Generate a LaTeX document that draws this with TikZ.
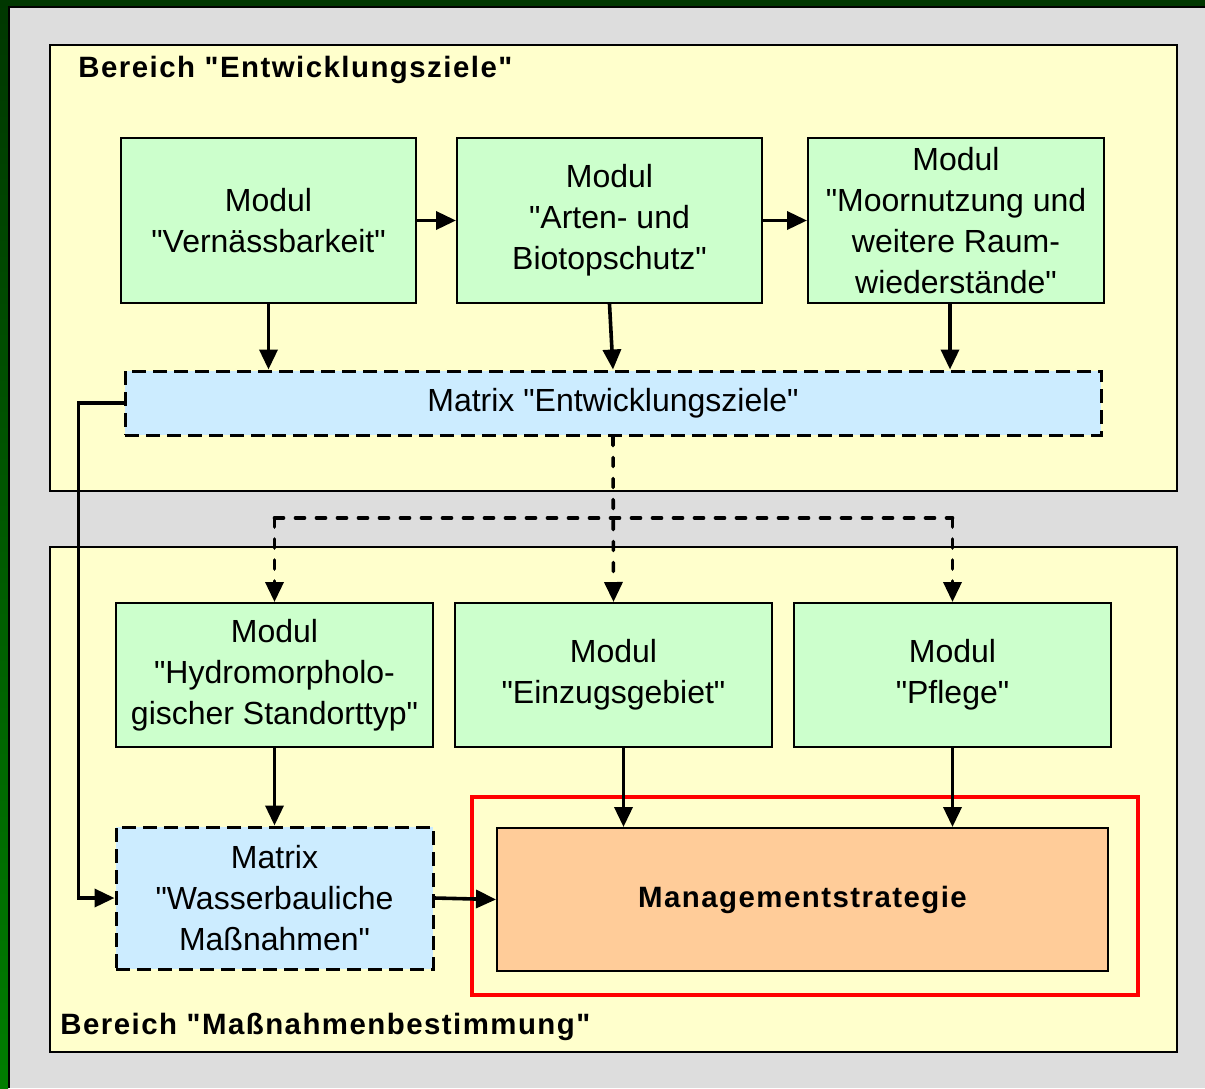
\documentclass[tikz,border=0pt]{standalone}
\usepackage{fontspec}
\setmainfont{Liberation Sans}
\newfontfamily\bodyfont{Liberation Sans}
\newfontfamily\spacedfont[LetterSpace=5.0]{Liberation Sans}
\usetikzlibrary{arrows.meta,positioning}
\definecolor{areayellow}{RGB}{255,255,204}
\definecolor{modgreen}{RGB}{204,255,204}
\definecolor{matblue}{RGB}{204,236,255}
\definecolor{mgmtorange}{RGB}{255,204,153}
\definecolor{pagegrey}{RGB}{221,221,221}
\definecolor{framegreen}{RGB}{0,55,0}
\definecolor{stripgreen}{RGB}{0,125,0}
\tikzset{
  flow/.style={-{Triangle[length=10pt,width=9pt]}, line width=1.8pt, draw=black},
  dashflow/.style={flow, dash pattern=on 4.5pt off 6pt, line cap=round},
  dashline/.style={line width=1.8pt, dash pattern=on 4.5pt off 6pt, line cap=round},
  area/.style={draw=black, line width=1.2pt, fill=areayellow, inner sep=0pt},
  modbox/.style={
    draw=black,
    line width=1pt,
    fill=modgreen,
    align=center,
    inner sep=0pt,
    font=\fontsize{16}{20.5}\bodyfont
  },
  matbox/.style={modbox, fill=matblue, line width=1.5pt, dash pattern=on 7pt off 3.5pt},
  mgmtbox/.style={modbox, fill=mgmtorange, font=\fontsize{14.7}{18}\spacedfont\bfseries},
  areatitle/.style={anchor=west, inner sep=0pt, font=\fontsize{14.7}{18}\spacedfont\bfseries}
}
\begin{document}
\begin{tikzpicture}[x=0.5pt,y=-0.5pt]
  \useasboundingbox (0,0) rectangle (1205,1088);
  % page frame
  \fill[pagegrey] (0,0) rectangle (1205,1088);
  \shade[top color=framegreen, bottom color=stripgreen] (0,0) rectangle (8,1088);
  \fill[framegreen] (0,0) rectangle (1205,6);
  \draw[line width=1pt] (9,1088) -- (9,7) -- (1205,7);

  % the two areas
  \node[area,minimum width=563.5pt,minimum height=223pt] (upper) at (613.5,268) {};
  \node[area,minimum width=563.5pt,minimum height=252.5pt] (lower) at (613.5,799.5) {};
  \node[areatitle] (uppertitle) at (78,70) {Bereich "Entwicklungsziele"};
  \node[areatitle] (lowertitle) at (60,1027) {Bereich "Maßnahmenbestimmung"};

  % modules, upper row
  \node[modbox,minimum width=147.5pt,minimum height=82.5pt] (verna) at (268.5,220.5) {Modul\\"Vernässbarkeit"};
  \node[modbox,minimum width=152.5pt,minimum height=82.5pt] (arten) at (609.5,220.5) {Modul\\"Arten- und\\Biotopschutz"};
  \node[modbox,minimum width=148pt,minimum height=82.5pt] (moor) at (956,220.5) {Modul\\"Moornutzung und\\weitere Raum-\\wiederstände"};
  \node[matbox,minimum width=488pt,minimum height=32pt] (mez) at (613,403) {Matrix "Entwicklungsziele"};

  % modules, lower row
  \node[modbox,minimum width=158.5pt,minimum height=72pt] (hydro) at (274.5,675) {Modul\\"Hydromorpholo-\\gischer Standorttyp"};
  \node[modbox,minimum width=158.5pt,minimum height=72pt] (einzug) at (613.5,675) {Modul\\"Einzugsgebiet"};
  \node[modbox,minimum width=158.5pt,minimum height=72pt] (pflege) at (952.5,675) {Modul\\"Pflege"};
  \node[matbox,minimum width=158.5pt,minimum height=71pt] (wasser) at (274.5,898) {Matrix\\"Wasserbauliche\\Maßnahmen"};
  \draw[red,line width=2.2pt] (472,797) rectangle (1138,995);
  \node[mgmtbox,minimum width=305.5pt,minimum height=71.5pt] (mgmt) at (802.5,899.5) {Managementstrategie};

  % connectors
  \draw[flow] (verna.east) -- (arten.west);
  \draw[flow] (arten.east) -- (moor.west);
  \draw[flow] (verna.south) -- (verna.south |- mez.north);
  \draw[flow] (arten.south) -- (mez.north);
  \draw[flow] ([xshift=-3pt]moor.south) -- ([xshift=-3pt]moor.south |- mez.north);

  \coordinate (split) at (613,518);
  \draw[dashflow] (mez.south) -- (einzug.north);
  \draw[dashline] (split -| hydro.north) -- (split -| pflege.north);
  \draw[dashflow] (split -| hydro.north) -- (hydro.north);
  \draw[dashflow] (split -| pflege.north) -- (pflege.north);

  \draw[flow] (hydro.south) -- (wasser.north);
  \draw[flow] ([xshift=5pt]einzug.south) -- ([xshift=5pt]einzug.south |- mgmt.north);
  \draw[flow] (pflege.south) -- (pflege.south |- mgmt.north);
  \draw[flow] (wasser.east) -- (mgmt.west);
  \draw[flow] (mez.west) -- ++(-45,0) |- (wasser.west);
\end{tikzpicture}
\end{document}
